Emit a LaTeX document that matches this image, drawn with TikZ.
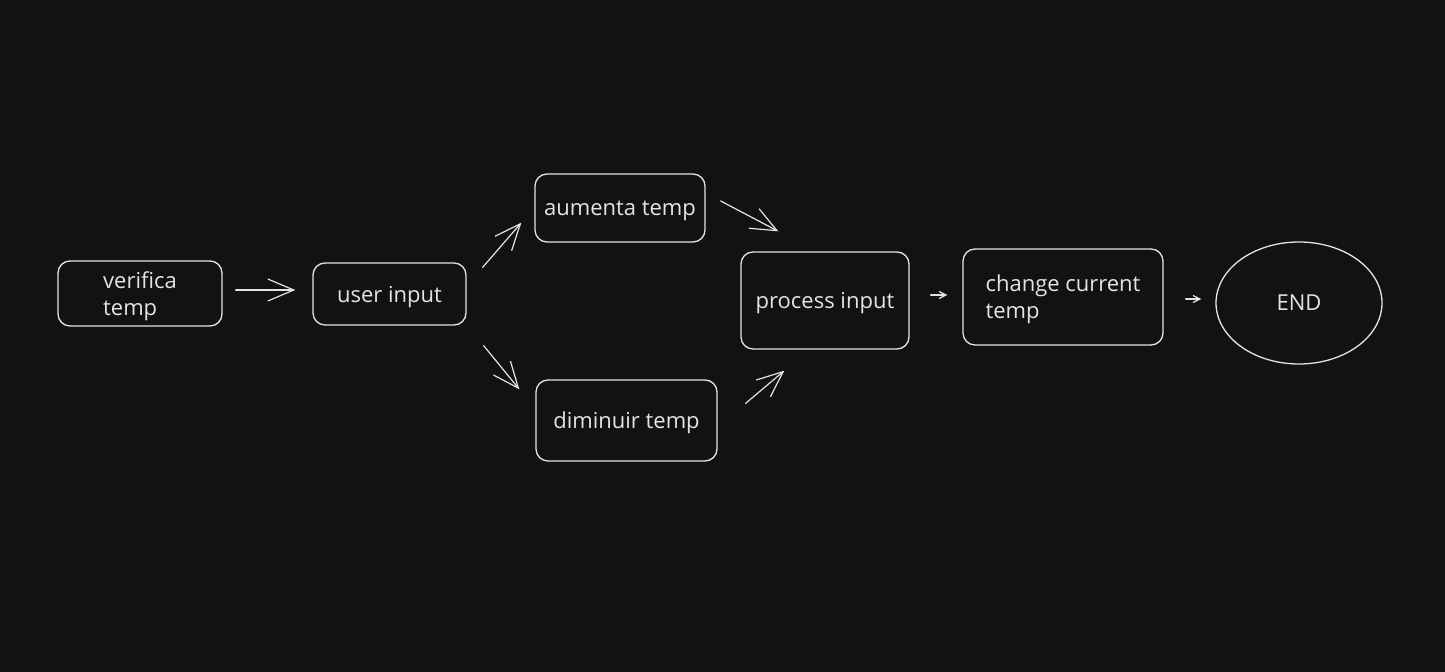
\documentclass[tikz,border=0pt]{standalone}
\usepackage{fontspec}
\setmainfont{Open Sans}
\usetikzlibrary{arrows.meta,calc,shapes.geometric}
\definecolor{bg}{HTML}{121212}
\definecolor{ink}{HTML}{E4E4E4}
\tikzset{
  box/.style={draw=ink, line width=0.65pt, rounded corners=6pt, text=ink,
    inner sep=0pt, align=left, text depth=0pt,
    font=\fontsize{11}{13.5}\selectfont},
  endnode/.style={draw=ink, line width=0.65pt, ellipse, text=ink,
    inner sep=0pt, text depth=0pt, font=\fontsize{11}{13.5}\selectfont},
  arr/.style={draw=ink, line width=0.6pt, line cap=round,
    -{Straight Barb[length=13pt,width=11pt,line width=0.6pt]}},
  smallarr/.style={draw=ink, line width=0.6pt, line cap=round,
    -{Straight Barb[length=3.5pt,width=3.5pt,line width=0.6pt]}},
}
\begin{document}
\begin{tikzpicture}[x=0.5pt,y=-0.5pt]
  \fill[bg] (0,0) rectangle (1445,672);
  \useasboundingbox (0,0) rectangle (1445,672);

  % process steps
  \node[box, minimum width=82pt, minimum height=32.5pt] (v) at (140,293.5) {verifica\\temp};
  \node[box, minimum width=76.5pt, minimum height=31pt] (u) at (389.5,294) {user input};
  \node[box, minimum width=85pt, minimum height=34pt] (a) at (620,208) {aumenta temp};
  \node[box, minimum width=90.5pt, minimum height=40.5pt] (d) at (626.5,420.5) {diminuir temp};
  \node[box, minimum width=84pt, minimum height=48.5pt] (p) at (825,300.5) {process input};
  \node[box, minimum width=100pt, minimum height=48pt] (c) at (1063,297) {change current\\temp};
  \node[endnode, minimum width=83pt, minimum height=61pt] (e) at (1299,303) {END};

  % connectors
  \draw[arr] ($(v.east)+(13,-3.5)$) -- ($(u.west)+(-17,-4)$);
  \draw[arr] ($(u.north east)+(16,5)$) -- ($(a.south west)+(-13,-20)$);
  \draw[arr] ($(u.south east)+(17,20)$) -- ($(d.north west)+(-16,10)$);
  \draw[arr] ($(a.east)+(15,-7)$) -- ($(p.north west)+(38,-20)$);
  \draw[arr] ($(d.north east)+(28,24)$) -- ($(p.south west)+(44,21)$);
  \draw[smallarr] ($(p.east)+(21,-5.5)$) -- ($(c.west)+(-15,-2)$);
  \draw[smallarr] ($(c.east)+(22,2)$) -- ($(e.west)+(-14,-4)$);
\end{tikzpicture}
\end{document}
